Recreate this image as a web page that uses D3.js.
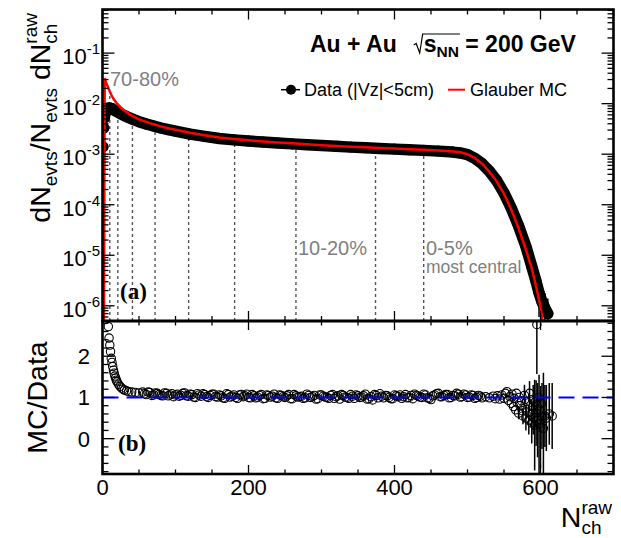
<!DOCTYPE html>
<html><head><meta charset="utf-8">
<script src="https://cdn.jsdelivr.net/npm/d3@7"></script>
<style>
html,body{margin:0;padding:0;background:#fff;}
svg{display:block;}
text{font-family:"Liberation Sans",Arial,Helvetica,sans-serif;white-space:pre;}
</style></head><body>
<svg id="c" width="621" height="538"></svg>
<script>
// ---------------- data ----------------
const dataN = [1,2,3,4,5,6,8,10,12,15,20,25,30,35,40,50,60,70,80,90,100,120,140,160,180,200,220,240,260,280,300,320,340,360,380,400,420,440,460,480,490,500,510,520,530,540,550,560,570,580,588,594,598,602,606,610];
const dataY = [1.4e-3,3.3e-3,5.2e-3,6.6e-3,7.4e-3,7.9e-3,8.2e-3,8.2e-3,8.0e-3,7.6e-3,6.9e-3,6.3e-3,5.8e-3,5.4e-3,5.0e-3,4.4e-3,3.95e-3,3.6e-3,3.3e-3,3.05e-3,2.85e-3,2.5e-3,2.25e-3,2.05e-3,1.92e-3,1.82e-3,1.74e-3,1.67e-3,1.6e-3,1.54e-3,1.48e-3,1.43e-3,1.38e-3,1.34e-3,1.3e-3,1.26e-3,1.22e-3,1.19e-3,1.15e-3,1.1e-3,1.06e-3,9.8e-4,8.3e-4,6.5e-4,4.6e-4,3.0e-4,1.7e-4,8.5e-5,3.8e-5,1.5e-5,6e-6,3e-6,1.8e-6,1.2e-6,9e-7,7e-7];
const dataErr = [0,0,0,0,0,0,0,0,0,0,0,0,0,0,0,0,0,0,0,0,0,0,0,0,0,0,0,0,0,0,0,0,0,0,0,0,0,0,0,0,0,0,0,0,0,0,0,0,0,0,2e-6,1.6e-6,1.2e-6,1e-6,9e-7,7e-7];

const mcN = [2,3,4,5,6,8,10,12,15,20,25,30,35,40,50,60,70,80,90,100,120,140,160,180,200,220,240,260,280,300,320,340,360,380,400,420,440,460,480,490,500,510,520,530,540,550,560,570,580,588,594,598,601,603,700];
const mcY = [0,3.2e-2,2.9e-2,2.6e-2,2.4e-2,2.05e-2,1.75e-2,1.5e-2,1.25e-2,1.0e-2,8.4e-3,7.3e-3,6.5e-3,5.8e-3,4.9e-3,4.35e-3,3.9e-3,3.55e-3,3.27e-3,3.05e-3,2.65e-3,2.37e-3,2.15e-3,2.0e-3,1.88e-3,1.79e-3,1.71e-3,1.64e-3,1.57e-3,1.51e-3,1.46e-3,1.41e-3,1.37e-3,1.33e-3,1.29e-3,1.25e-3,1.22e-3,1.18e-3,1.13e-3,1.09e-3,1.0e-3,8.4e-4,6.5e-4,4.5e-4,2.9e-4,1.65e-4,8.0e-5,3.4e-5,1.3e-5,5.5e-6,2.4e-6,1.3e-6,8e-7,0,0];

const ratioN = [8,9,10,11,12,13,14,15,16,17,18,19,20,22,24,26,28,30,33,36,40,45,50,
  55,60,65,70,75,80,85,90,95,100,105,110,115,120,125,130,135,140,145,150,155,160,165,170,175,180,185,190,195,200,
  205,210,215,220,225,230,235,240,245,250,255,260,265,270,275,280,285,290,295,300,305,310,315,320,325,330,335,340,345,350,
  355,360,365,370,375,380,385,390,395,400,405,410,415,420,425,430,435,440,445,450,455,460,465,470,475,480,485,490,495,500,
  505,510,515,520,
  525,530,535,538,541,544,547,550,552,554,556,558,560,561,563,564,566,567,568,570,571,572,574,575,576,578,579,580,581,582,584,585,586,587,588,589,590,591,592,593,594,595,596,597,598,599,600,601,602,604,606,608,612,616];
const ratioY = [2.72,2.44,2.27,2.11,1.95,1.85,1.75,1.66,1.59,1.52,1.47,1.42,1.38,1.32,1.27,1.23,1.2,1.18,1.16,1.14,1.13,1.12,1.11,
  1.13,1.07,1.12,1.06,1.10,1.05,1.11,1.04,1.09,1.06,1.03,1.10,1.04,1.08,1.01,1.09,1.03,1.07,1.00,1.08,1.02,1.06,0.99,1.09,1.01,1.06,0.98,1.07,1.04,1.00,
  1.07,0.99,1.05,0.97,1.06,1.01,1.08,0.98,1.05,1.00,1.07,0.97,1.04,1.02,0.98,1.08,1.00,1.05,0.97,1.06,1.01,0.98,1.07,1.02,0.96,1.05,1.00,1.07,0.98,1.04,
  1.01,1.08,0.97,0.94,1.05,1.09,0.99,1.04,0.97,1.06,1.02,0.98,1.07,1.00,0.97,1.05,1.01,1.08,0.99,0.95,1.06,1.10,1.02,1.07,0.99,1.05,1.10,1.01,1.08,1.00,
  1.06,0.98,1.05,0.99,
  1.02,0.99,1.03,0.97,1.04,0.96,1.06,0.98,1.10,1.14,0.93,1.02,0.86,1.08,0.78,0.98,0.70,1.10,0.88,0.62,1.00,0.80,0.92,0.68,0.55,1.05,0.75,0.50,0.90,0.65,0.45,1.10,0.80,0.58,0.38,0.95,0.70,0.50,0.33,0.90,0.62,2.77,0.45,1.00,0.35,0.70,0.28,0.85,0.55,0.25,0.55,0.50,0.60,0.55];
// in-between bins of the dense plateau (N = 57.5 ... 517.5)
const ratioMidN = d3.range(57.5, 520, 5);
const ratioMidY = [1.09,1.13,1.05,1.11,1.07,1.04,1.10,1.06,1.02,1.08,
  1.05,1.11,1.03,1.07,1.00,1.06,1.09,1.02,1.05,1.08,
  1.01,1.04,0.98,1.07,1.03,1.00,1.06,1.02,1.08,0.99,
  1.04,1.01,1.07,0.98,1.05,1.03,0.99,1.06,1.02,1.04,
  0.97,1.07,1.01,1.03,0.99,1.05,1.02,0.96,1.06,1.03,
  1.00,1.05,0.98,1.04,1.07,1.01,0.98,1.03,1.06,1.00,
  1.04,0.96,1.02,1.07,0.99,1.03,1.05,1.00,0.97,1.04,
  1.06,1.02,0.99,1.05,1.08,1.03,1.00,1.06,0.98,1.04,
  1.09,1.02,1.05,1.07,1.00,1.04,1.08,1.02,1.06,1.01,
  1.05,1.00,1.03];
const tailErrN = [570,576,578,580,584,585,588,590,592,594,595,596,598,600,602,604,606,608,612,616];
const tailErrV = [0.15,0.2,0.26,0.3,0.35,0.3,0.5,0.6,1.1,0.8,1.2,0.9,1.2,1.0,0.8,1.35,0.75,0.8,0.75,0.8];

const cutN = [10,21,41,72,118,181,265,374,440];
const yTopTicks = [1e-6,1e-5,1e-4,1e-3,1e-2,1e-1];
const yTopTickExp = ["-6","-5","-4","-3","-2","-1"];
const yBotTicks = [0,1,2];
const xTicks = [0,200,400,600];

// ---------------- layout ----------------
const svg = d3.select('#c');
const X0=102.5, X1=613.5, YT=9.5, YM=321, YB=474;
const x = d3.scaleLinear().domain([0,700]).range([X0,X1]);
const yA = d3.scaleLog().domain([5e-7,0.73]).range([YM,YT]);
const yB = d3.scaleLinear().domain([-0.857,2.855]).range([YB,YM]);
const yAv = v => v>0 ? yA(Math.max(v,5e-7)) : YM;

const ratioErr = ratioN.map(n=>{ const k=tailErrN.indexOf(n); return k>=0?tailErrV[k]:0; });

const defs = svg.append('defs');
defs.append('clipPath').attr('id','clipA').append('rect').attr('x',X0).attr('y',YT).attr('width',X1-X0).attr('height',YM-YT);
defs.append('clipPath').attr('id','clipB').append('rect').attr('x',X0).attr('y',YM).attr('width',X1-X0).attr('height',YB-YM);

function mcAt(n){
  const i = d3.bisectRight(mcN,n);
  const a=i-1,b=i;
  const la=Math.log10(mcY[a]), lb=Math.log10(mcY[b]);
  const t=(n-mcN[a])/(mcN[b]-mcN[a]);
  return Math.pow(10, la+(lb-la)*t);
}

const gA = svg.append('g').attr('clip-path','url(#clipA)');
gA.selectAll('line.cut').data(cutN).join('line')
  .attr('x1',d=>x(d)).attr('x2',d=>x(d)).attr('y1',YM).attr('y2',d=>yA(mcAt(d)))
  .attr('stroke','#555').attr('stroke-width',1.4).attr('stroke-dasharray','3,3');

const pts = dataN.map((n,i)=>[n,dataY[i],dataErr[i]]);
const band = pts.filter(p=>p[0]>=4);
gA.append('path').attr('d', d3.line().x(d=>x(d[0])).y(d=>yA(d[1]))(band))
  .attr('fill','none').attr('stroke','#000').attr('stroke-width',11.5)
  .attr('stroke-linejoin','round').attr('stroke-linecap','round');
gA.selectAll('line.err').data(pts.filter(p=>p[2]>0)).join('line')
  .attr('x1',d=>x(d[0])).attr('x2',d=>x(d[0]))
  .attr('y1',d=>yAv(d[1]+d[2])).attr('y2',d=>yAv(d[1]-d[2]))
  .attr('stroke','#000').attr('stroke-width',1.5);
gA.selectAll('circle.dat').data(pts).join('circle')
  .attr('cx',d=>x(d[0])).attr('cy',d=>yA(d[1])).attr('r',5.5).attr('fill','#000');

const mcPts = mcN.map((n,i)=>[n,mcY[i]]);
gA.append('path').attr('d', d3.line().x(d=>x(d[0])).y(d=>yAv(d[1]))(mcPts))
  .attr('fill','none').attr('stroke','#ff0000').attr('stroke-width',2.5);

// ratio panel
const gB = svg.append('g').attr('clip-path','url(#clipB)');
const rPts = ratioN.map((n,i)=>[n,ratioY[i],ratioErr[i]])
  .concat(ratioMidN.map((n,i)=>[n,ratioMidY[i],0]));
gB.selectAll('line.rerr').data(rPts.filter(p=>p[2]>0)).join('line')
  .attr('x1',d=>x(d[0])).attr('x2',d=>x(d[0]))
  .attr('y1',d=>yB(d[1]+d[2])).attr('y2',d=>yB(d[1]-d[2]))
  .attr('stroke','#000').attr('stroke-width',1.5);
gB.selectAll('circle.r').data(rPts).join('circle')
  .attr('cx',d=>x(d[0])).attr('cy',d=>yB(d[1])).attr('r',4.2)
  .attr('fill','none').attr('stroke','#000').attr('stroke-width',1.1);
gB.append('line').attr('x1',X0).attr('x2',X1).attr('y1',yB(1)).attr('y2',yB(1))
  .attr('stroke','#0000ff').attr('stroke-width',2).attr('stroke-dasharray','16,8');

// ---------------- frames & ticks ----------------
const tk = svg.append('g').attr('stroke','#000').attr('stroke-width',1.3);
function tline(x1,y1,x2,y2){ tk.append('line').attr('x1',x1).attr('y1',y1).attr('x2',x2).attr('y2',y2); }
for(let e=-7;e<=-1;e++){
  for(let k=1;k<=9;k++){
    const v=k*Math.pow(10,e);
    if(v<5e-7||v>0.73) continue;
    const L = k===1?12:6, yy=yA(v);
    tline(X0,yy,X0+L,yy); tline(X1,yy,X1-L,yy);
  }
}
for(let v=0; v<=700; v+=50){
  const maj = v%200===0, xx=x(v);
  tline(xx,YM,xx,YM-(maj?10:5)); tline(xx,YT,xx,YT+(maj?10:5));
  tline(xx,YM,xx,YM+(maj?9:4.5)); tline(xx,YB,xx,YB-(maj?9:4.5));
}
for(let i=-4;i<=14;i++){
  const v=i*0.2, maj = i%5===0, yy=yB(v);
  const L = maj?12:6;
  tline(X0,yy,X0+L,yy); tline(X1,yy,X1-L,yy);
}
svg.append('rect').attr('x',X0).attr('y',YT).attr('width',X1-X0).attr('height',YM-YT)
  .attr('fill','none').attr('stroke','#000').attr('stroke-width',2.6);
svg.append('rect').attr('x',X0).attr('y',YM).attr('width',X1-X0).attr('height',YB-YM)
  .attr('fill','none').attr('stroke','#000').attr('stroke-width',2.6);

// ---------------- tick labels ----------------
yTopTicks.forEach((v,i)=>{
  const t = svg.append('text').attr('x',100).attr('y',yA(v)+11).attr('text-anchor','end').attr('font-size',22);
  t.append('tspan').text('10');
  t.append('tspan').attr('font-size',15).attr('dy',-10).text(yTopTickExp[i]);
});
yBotTicks.forEach(v=>{
  svg.append('text').attr('x',90).attr('y',yB(v)+8).attr('text-anchor','end').attr('font-size',22).text(v);
});
xTicks.forEach(v=>{
  svg.append('text').attr('x',x(v)).attr('y',495).attr('text-anchor','middle').attr('font-size',22).text(v);
});

// ---------------- axis titles ----------------
function measure(str,size,weight){
  const t=svg.append('text').attr('font-size',size).attr('font-weight',weight||'normal').text(str);
  const w=t.node().getComputedTextLength(); t.remove(); return w;
}
{
  const g=svg.append('g').attr('transform','translate(50,13) rotate(-90)');
  const t=g.append('text').attr('text-anchor','end').attr('font-size',28.5);
  t.append('tspan').text('dN');
  t.append('tspan').attr('dy',7).attr('font-size',19).text('evts');
  t.append('tspan').attr('dy',-7).text('/N');
  t.append('tspan').attr('dy',7).attr('font-size',19).text('evts');
  t.append('tspan').attr('dy',-7).text(' dN');
  t.append('tspan').attr('dy',7).attr('font-size',19).text('ch');
  t.append('tspan').attr('dx',-measure('ch',19)).attr('dy',-20).attr('font-size',19).text('raw');
}
{
  const g=svg.append('g').attr('transform',`translate(47,${(YM+YB)/2}) rotate(-90)`);
  g.append('text').attr('text-anchor','middle').attr('font-size',28.5).text('MC/Data');
}
{
  const t=svg.append('text').attr('x',612).attr('y',527).attr('text-anchor','end').attr('font-size',28.5);
  t.append('tspan').text('N');
  t.append('tspan').attr('dy',7).attr('font-size',19).text('ch');
  t.append('tspan').attr('dx',-measure('ch',19)).attr('dy',-20).attr('font-size',19).text('raw');
}

// ---------------- header & legend ----------------
{
  const by=52, fs=23;
  const t1=svg.append('text').attr('x',310).attr('y',by).attr('font-size',fs).attr('font-weight','bold').text('Au + Au');
  const w1=t1.node().getComputedTextLength();
  const xr=310+w1+17;
  const wS=measure('s',fs,'bold')+measure('NN',15.5,'bold');
  svg.append('path').attr('d',`M${xr},${by-7} L${xr+2.5},${by-8.5} L${xr+6},${by+1} L${xr+9},${by-18} L${xr+11+wS},${by-18}`)
    .attr('fill','none').attr('stroke','#000').attr('stroke-width',1.2);
  const t2=svg.append('text').attr('x',xr+10).attr('y',by).attr('font-size',fs).attr('font-weight','bold');
  t2.append('tspan').text('s');
  t2.append('tspan').attr('dy',5).attr('font-size',15.5).text('NN');
  t2.append('tspan').attr('dy',-5).text(' = 200 GeV');
}
{
  const ly=89.7;
  svg.append('line').attr('x1',281).attr('x2',300).attr('y1',ly).attr('y2',ly).attr('stroke','#000').attr('stroke-width',1.5);
  svg.append('circle').attr('cx',291).attr('cy',ly).attr('r',5).attr('fill','#000');
  svg.append('text').attr('x',304).attr('y',ly+6).attr('font-size',18).text('Data (|Vz|<5cm)');
  svg.append('line').attr('x1',448).attr('x2',465).attr('y1',ly).attr('y2',ly).attr('stroke','#ff0000').attr('stroke-width',2);
  svg.append('text').attr('x',470).attr('y',ly+6).attr('font-size',18).text('Glauber MC');
}

// ---------------- annotations ----------------
const grey='#7f7f7f';
svg.append('text').attr('x',110).attr('y',86).attr('font-size',20).attr('fill',grey).text('70-80%');
svg.append('text').attr('x',298).attr('y',255).attr('font-size',20).attr('fill',grey).text('10-20%');
svg.append('text').attr('x',426).attr('y',255).attr('font-size',20).attr('fill',grey).text('0-5%');
svg.append('text').attr('x',426).attr('y',273).attr('font-size',17.5).attr('fill',grey).text('most central');
svg.append('text').attr('x',120).attr('y',299).attr('font-size',23).attr('font-weight','bold')
  .style('font-family','"Liberation Serif","Times New Roman",serif').text('(a)');
svg.append('text').attr('x',118).attr('y',451).attr('font-size',23).attr('font-weight','bold')
  .style('font-family','"Liberation Serif","Times New Roman",serif').text('(b)');
</script>
</body></html>
